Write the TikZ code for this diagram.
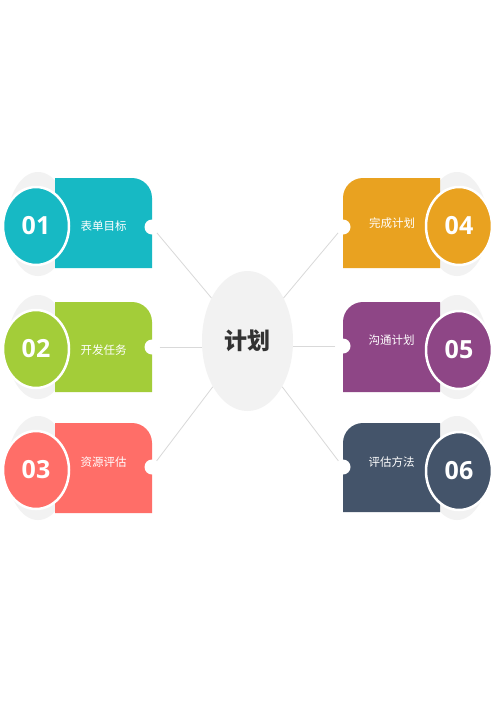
\documentclass[tikz,border=0pt]{standalone}
\usepackage{fontspec}
\usetikzlibrary{shapes.geometric}
\newfontfamily\cjk{Noto Sans CJK SC}
\newfontfamily\numfont{Open Sans}
\definecolor{cA}{HTML}{17B9C4}
\definecolor{cB}{HTML}{A3CD39}
\definecolor{cC}{HTML}{FF6E68}
\definecolor{cD}{HTML}{E9A220}
\definecolor{cE}{HTML}{8E4686}
\definecolor{cF}{HTML}{44546A}
\definecolor{halo}{HTML}{F2F2F2}
\definecolor{linkgray}{HTML}{D9D9D9}
\definecolor{dark}{HTML}{333333}
\tikzset{
  halo/.style={ellipse, fill=halo, minimum width=62pt, minimum height=104pt, inner sep=0pt},
  numdisc/.style={ellipse, fill=#1, draw=white, line width=2.5pt, minimum width=66pt, minimum height=78pt, inner sep=0pt, text=white, font=\numfont\bfseries\fontsize{25}{25}\selectfont},
  notchdot/.style={circle, fill=white, minimum size=15pt, inner sep=0pt},
  label/.style={text=white, font=\cjk\fontsize{11.5}{12}\selectfont, inner sep=0pt},
  link/.style={draw=linkgray, line width=0.8pt},
  hub/.style={ellipse, fill=halo, minimum width=91pt, minimum height=140pt, inner sep=0pt, text=dark, font=\cjk\bfseries\fontsize{23}{23}\selectfont}
}
\begin{document}
\begin{tikzpicture}[x=1pt,y=-1pt]
\useasboundingbox (0,0) rectangle (500,707);
\fill[white] (0,0) rectangle (500,707);
% hub
\node[hub] (c) at (247.5,341) {计划};
% ---------- left cards ----------
\node[halo] (h1) at (38,224) {};
\fill[cA] (55,178) -- (132,178) arc[start angle=-90,end angle=0,radius=20] -- (152,268) -- (55,268) -- cycle;
\node[numdisc=cA] (d1) at (36,226) {01};
\node[notchdot] (n1) at (152,227) {};
\node[label] (l1) at (103.5,226.5) {表单目标};

\node[halo] (h2) at (38,347) {};
\fill[cB] (55,302) -- (132,302) arc[start angle=-90,end angle=0,radius=20] -- (152,392) -- (55,392) -- cycle;
\node[numdisc=cB] (d2) at (36,349) {02};
\node[notchdot] (n2) at (152,347) {};
\node[label] (l2) at (103.5,350) {开发任务};

\node[halo] (h3) at (38,468) {};
\fill[cC] (55,423) -- (132,423) arc[start angle=-90,end angle=0,radius=20] -- (152,513) -- (55,513) -- cycle;
\node[numdisc=cC] (d3) at (36,470) {03};
\node[notchdot] (n3) at (152,467) {};
\node[label] (l3) at (103.5,462) {资源评估};
% ---------- right cards ----------
\node[halo] (h4) at (457,224) {};
\fill[cD] (343,268) -- (343,198) arc[start angle=180,end angle=270,radius=20] -- (440,178) -- (440,268) -- cycle;
\node[numdisc=cD] (d4) at (459,226) {04};
\node[notchdot] (n4) at (343,227) {};
\node[label] (l4) at (392,223) {完成计划};

\node[halo] (h5) at (457,347) {};
\fill[cE] (343,392) -- (343,322) arc[start angle=180,end angle=270,radius=20] -- (440,302) -- (440,392) -- cycle;
\node[numdisc=cE] (d5) at (459,350) {05};
\node[notchdot] (n5) at (343,346) {};
\node[label] (l5) at (391.5,340) {沟通计划};

\node[halo] (h6) at (457,468) {};
\fill[cF] (343,512) -- (343,443) arc[start angle=180,end angle=270,radius=20] -- (440,423) -- (440,512) -- cycle;
\node[numdisc=cF] (d6) at (459,471) {06};
\node[notchdot] (n6) at (343,467) {};
\node[label] (l6) at (391.5,462) {评估方法};
% ---------- links ----------
\draw[link] (n1) -- (c);
\draw[link] (n2.east) -- (n2.east -| c.west);
\draw[link] (n3) -- (c);
\draw[link] (n4) -- (c);
\draw[link] (n5.west) -- (n5.west -| c.east);
\draw[link] (n6) -- (c);
\end{tikzpicture}
\end{document}
